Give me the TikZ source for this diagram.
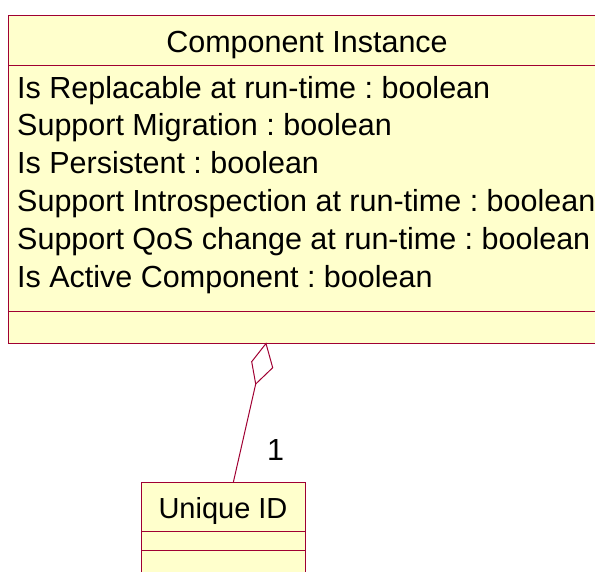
\documentclass[tikz,border=0pt]{standalone}
\usepackage{fontspec}
\setmainfont{Liberation Sans}
\usetikzlibrary{calc}
\frenchspacing
\definecolor{umlline}{RGB}{160,0,50}
\definecolor{umlfill}{RGB}{255,255,204}
\tikzset{
  umlbox/.style={draw=umlline, fill=umlfill, line width=1pt, inner sep=0pt, anchor=north west},
  umlrule/.style={draw=umlline, line width=1pt},
  attr/.style={anchor=base west, inner sep=0pt, font=\fontsize{30.5}{36}\selectfont},
  title/.style={inner sep=0pt, font=\fontsize{30.5}{36}\selectfont},
  assoc/.style={draw=umlline, line width=1pt, line join=miter}
}
\begin{document}
\begin{tikzpicture}[x=1pt, y=-1pt]
\useasboundingbox (0,0) rectangle (595,571);
\clip (0,0) rectangle (595,571);

% Component Instance class
\node[umlbox, minimum width=598pt, minimum height=328pt] (ci) at (8,15) {};
\draw[umlrule] (8,65) -- (606,65);
\draw[umlrule] (8,311.5) -- (606,311.5);
\node[title, anchor=base] (cititle) at (307,52) {Component Instance};
\node[attr] (a1) at (17,98)   {Is Replacable at run-time : boolean};
\node[attr] (a2) at (17,135.8) {Support Migration : boolean};
\node[attr] (a3) at (17,173.6) {Is Persistent : boolean};
\node[attr] (a4) at (17,211.4) {Support Introspection at run-time : boolean};
\node[attr] (a5) at (17,249.2) {Support QoS change at run-time : boolean};
\node[attr] (a6) at (17,287)   {Is Active Component : boolean};

% Unique ID class
\node[umlbox, minimum width=164pt, minimum height=100pt] (uid) at (141,482) {};
\draw[umlrule] (141,531.5) -- (305,531.5);
\draw[umlrule] (141,550) -- (305,550);
\node[title, anchor=base, font=\fontsize{29}{34}\selectfont] (uidtitle) at (223,518) {Unique ID};

% aggregation diamond on the Component Instance side
\coordinate (dtop) at (266,343.5);
\coordinate (dleft) at (251.7,361.7);
\coordinate (dbot) at (255.7,384);
\coordinate (dright) at (272.7,367.7);
\draw[assoc, fill=white] (dtop) -- (dleft) -- (dbot) -- (dright) -- cycle;

% association line and multiplicity
\coordinate (uidend) at ($(uid.north west)!0.56!(uid.north east)$);
\draw[assoc] (uidend) -- (dbot);
\node[title, anchor=base west] (mult) at (267,460) {1};
\end{tikzpicture}
\end{document}
